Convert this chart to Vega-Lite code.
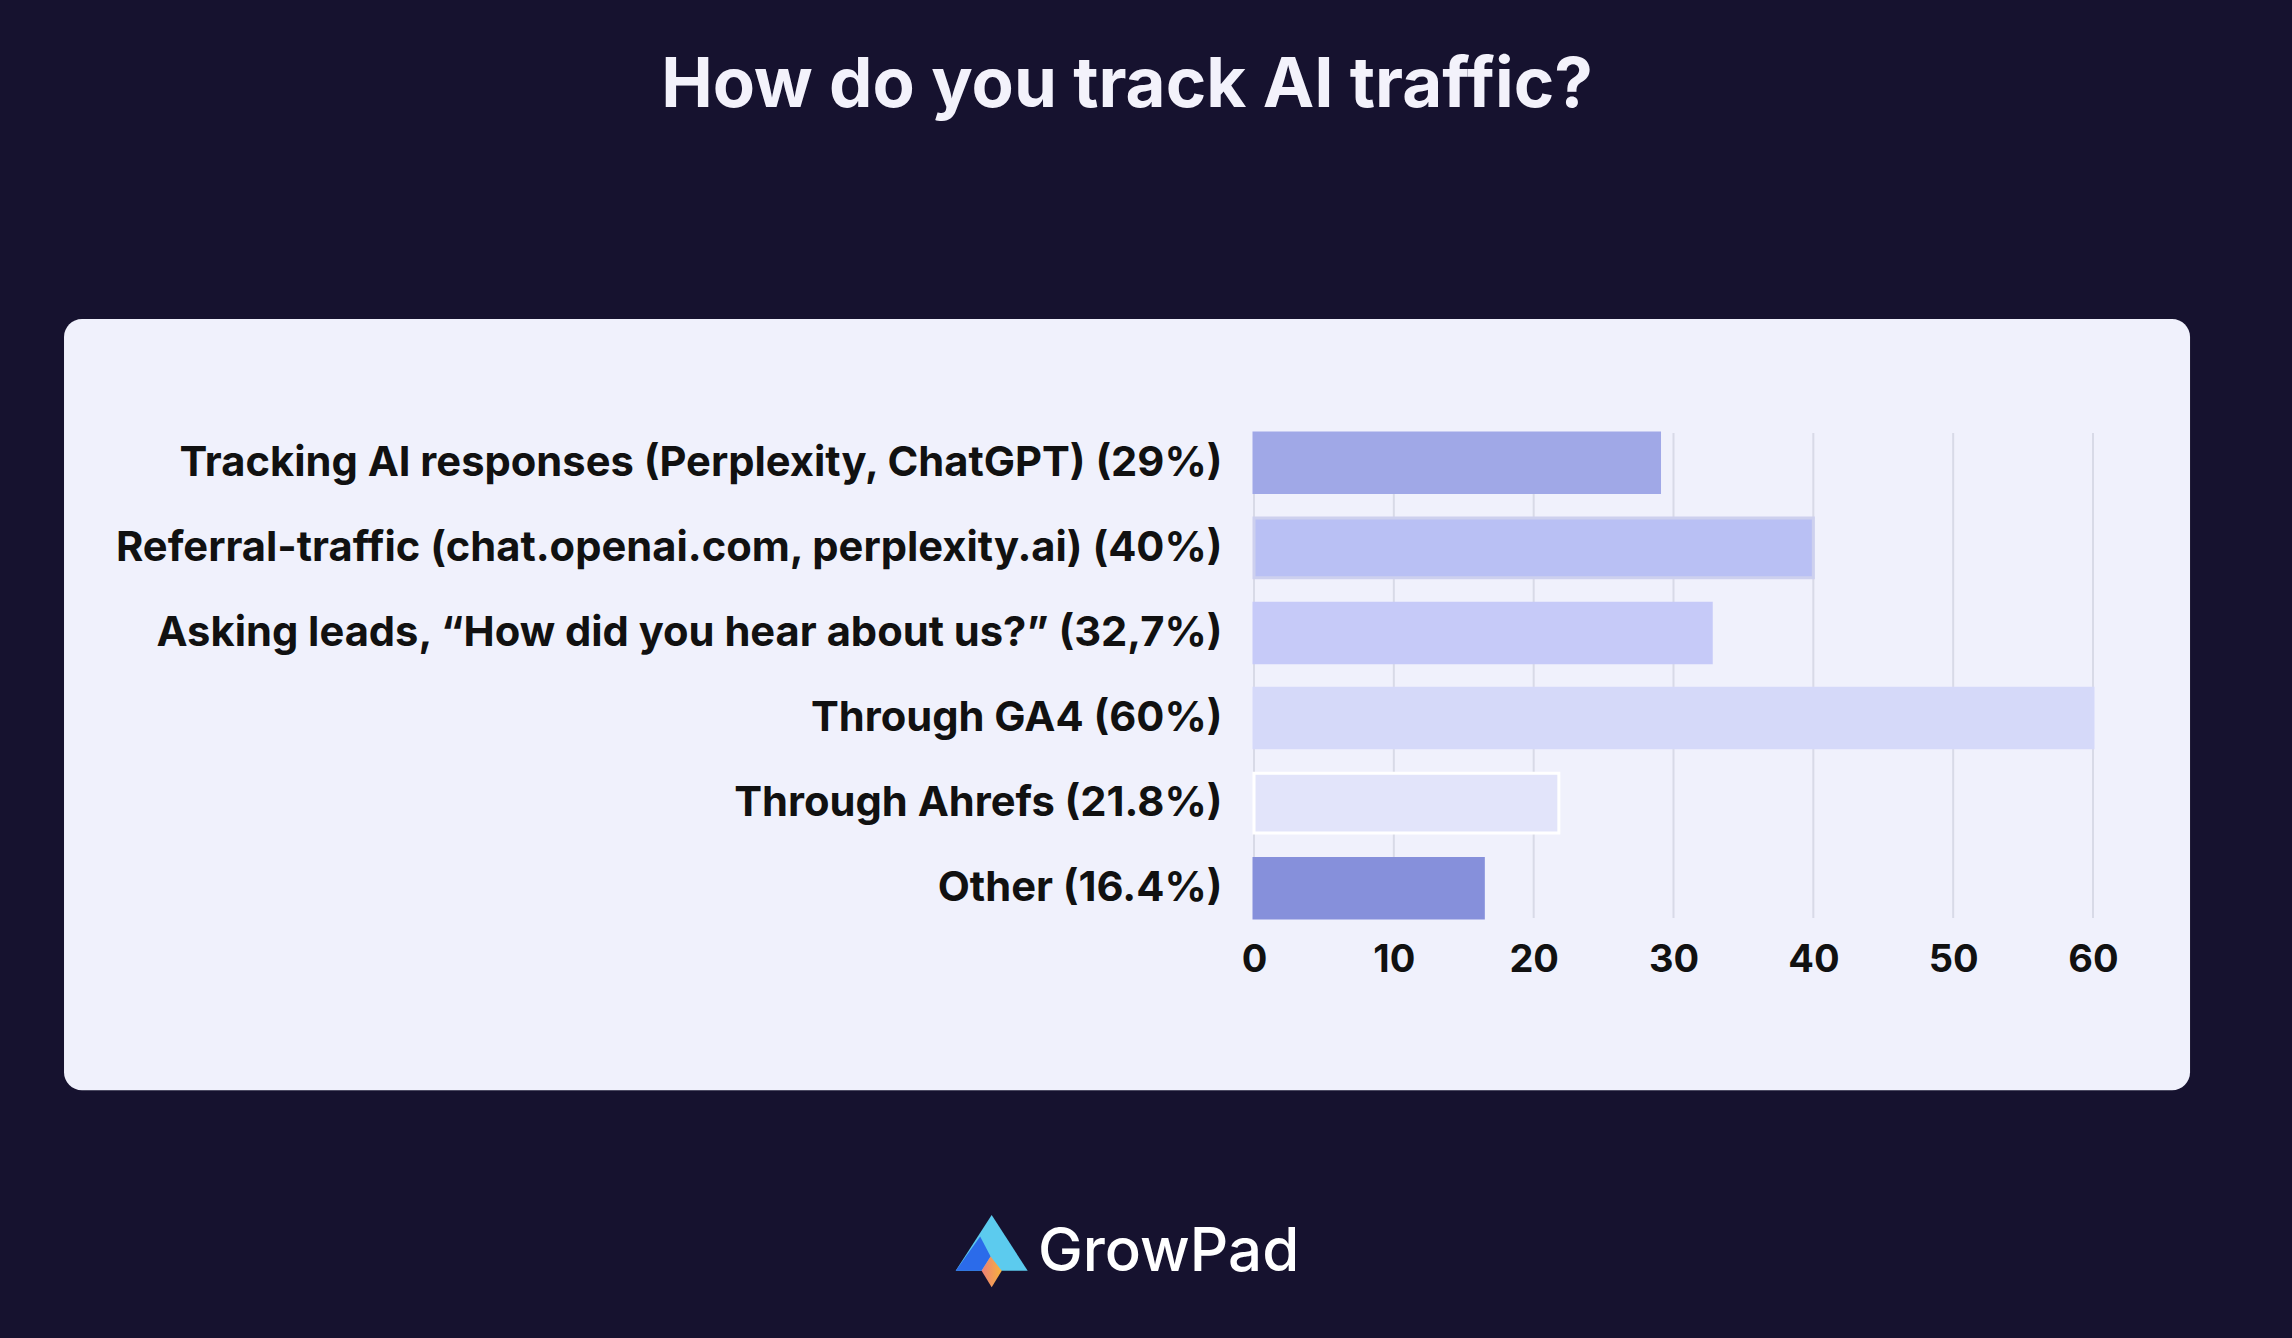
{
  "$schema": "https://vega.github.io/schema/vega-lite/v6.json",
  "width": 839,
  "height": 485,
  "autosize": {"type": "none"},
  "padding": {"left": 1254, "top": 433, "right": 199, "bottom": 420},
  "background": "#16122F",
  "title": {
    "text": "How do you track AI traffic?",
    "anchor": "middle",
    "frame": "bounds",
    "font": "Inter",
    "fontSize": 69,
    "fontWeight": "bold",
    "color": "#F3F2FB",
    "baseline": "alphabetic",
    "offset": 143
  },
  "config": {"view": {"stroke": null}},
  "datasets": {
    "answers": [
      {"answer": "Tracking AI responses (Perplexity, ChatGPT) (29%)", "pct": 29},
      {"answer": "Referral-traffic (chat.openai.com, perplexity.ai) (40%)", "pct": 40},
      {"answer": "Asking leads, “How did you hear about us?” (32,7%)", "pct": 32.7},
      {"answer": "Through GA4 (60%)", "pct": 60},
      {"answer": "Through Ahrefs (21.8%)", "pct": 21.8},
      {"answer": "Other (16.4%)", "pct": 16.4}
    ],
    "ticks": [{"t": 0}, {"t": 10}, {"t": 20}, {"t": 30}, {"t": 40}, {"t": 50}, {"t": 60}],
    "one": [{"brand": "GrowPad"}]
  },
  "data": {"name": "answers"},
  "resolve": {"scale": {"y": "independent"}},
  "layer": [
    {
      "data": {"name": "one"},
      "mark": {"type": "rect", "color": "#F0F1FC", "cornerRadius": 18},
      "encoding": {
        "x": {"datum": -85.1, "type": "quantitative", "scale": {"domain": [0, 60], "nice": false}},
        "x2": {"datum": 66.94},
        "y": {"datum": 1.235, "type": "quantitative", "scale": {"domain": [0, 1], "nice": false}, "axis": null},
        "y2": {"datum": -0.355}
      }
    },
    {
      "data": {"name": "ticks"},
      "mark": {"type": "rule", "color": "#D8DAE7", "strokeWidth": 2},
      "encoding": {
        "x": {"field": "t", "type": "quantitative", "scale": {"domain": [0, 60], "nice": false}}
      }
    },
    {
      "mark": {"type": "bar", "strokeWidth": 3},
      "encoding": {
        "y": {
          "field": "answer",
          "type": "nominal",
          "sort": null,
          "scale": {"paddingInner": 0.3, "paddingOuter": 0},
          "axis": {
            "title": null,
            "ticks": false,
            "domain": false,
            "grid": false,
            "zindex": 1,
            "labelFont": "Inter",
            "labelFontSize": 41.7,
            "labelFontWeight": "bold",
            "labelColor": "#111111",
            "labelPadding": 32,
            "labelLimit": 0
          }
        },
        "x": {
          "field": "pct",
          "type": "quantitative",
          "scale": {"domain": [0, 60], "nice": false},
          "axis": {
            "values": [0, 10, 20, 30, 40, 50, 60],
            "ticks": false,
            "domain": false,
            "grid": false,
            "title": null,
            "zindex": 1,
            "labelFlush": false,
            "labelFont": "Inter",
            "labelFontSize": 38,
            "labelFontWeight": "bold",
            "labelColor": "#111111",
            "labelPadding": 23
          }
        },
        "color": {
          "field": "answer",
          "type": "nominal",
          "sort": null,
          "legend": null,
          "scale": {"range": ["#A0A8E7", "#B9C0F4", "#C6CAF8", "#D5D9F9", "#E2E4FA", "#8690DB"]}
        },
        "stroke": {
          "field": "answer",
          "type": "nominal",
          "sort": null,
          "legend": null,
          "scale": {"range": ["#A0A8E7", "#CDD0EE", "#C6CAF8", "#D5D9F9", "#FFFFFF", "#8690DB"]}
        }
      }
    },
    {
      "data": {"name": "one"},
      "mark": {"type": "point", "shape": "M-1,0.72L0,-0.83L1,0.72Z", "filled": true, "size": 5184, "opacity": 1, "strokeWidth": 0, "color": "#5CCBEE"},
      "encoding": {
        "x": {"datum": -18.76, "type": "quantitative", "scale": {"domain": [0, 60], "nice": false}},
        "y": {"datum": -0.674, "type": "quantitative", "scale": {"domain": [0, 1], "nice": false}, "axis": null}
      }
    },
    {
      "data": {"name": "one"},
      "mark": {"type": "point", "shape": "M-1,0.72L-0.32,-0.23L-0.03,0.32L-0.28,0.72Z", "filled": true, "size": 5184, "opacity": 1, "strokeWidth": 0, "color": "#2B6BEA"},
      "encoding": {
        "x": {"datum": -18.76, "type": "quantitative", "scale": {"domain": [0, 60], "nice": false}},
        "y": {"datum": -0.674, "type": "quantitative", "scale": {"domain": [0, 1], "nice": false}, "axis": null}
      }
    },
    {
      "data": {"name": "one"},
      "mark": {
        "type": "point",
        "shape": "M-0.03,0.32L0.28,0.72L0,1.18L-0.28,0.72Z",
        "filled": true,
        "size": 5184,
        "opacity": 1,
        "strokeWidth": 0,
        "color": {"gradient": "linear", "x1": 0, "y1": 0.5, "x2": 1, "y2": 0.5, "stops": [{"offset": 0, "color": "#EC7E78"}, {"offset": 1, "color": "#F7B23C"}]}
      },
      "encoding": {
        "x": {"datum": -18.76, "type": "quantitative", "scale": {"domain": [0, 60], "nice": false}},
        "y": {"datum": -0.674, "type": "quantitative", "scale": {"domain": [0, 1], "nice": false}, "axis": null}
      }
    },
    {
      "data": {"name": "one"},
      "mark": {"type": "text", "align": "left", "baseline": "alphabetic", "font": "Inter", "fontSize": 60, "fontWeight": 500, "color": "#FFFFFF"},
      "encoding": {
        "text": {"field": "brand", "type": "nominal"},
        "x": {"datum": -15.45, "type": "quantitative", "scale": {"domain": [0, 60], "nice": false}},
        "y": {"datum": -0.728, "type": "quantitative", "scale": {"domain": [0, 1], "nice": false}, "axis": null}
      }
    }
  ]
}
